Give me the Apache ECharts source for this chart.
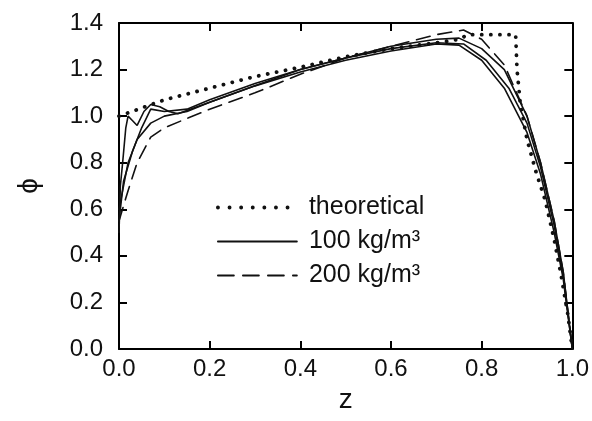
<!DOCTYPE html>
<html>
<head>
<meta charset="utf-8">
<script src="https://cdn.jsdelivr.net/npm/echarts@6/dist/echarts.min.js"></script>
<style>html,body{margin:0;padding:0;background:#fff}#c{width:592px;height:421px}</style>
</head>
<body>
<div id="c"></div>
<script>
const xTicks = [0, 0.2, 0.4, 0.6, 0.8, 1.0];
const yTicks = [0, 0.2, 0.4, 0.6, 0.8, 1.0, 1.2, 1.4];
const legendNames = ['theoretical', '100 kg/m³', '200 kg/m³'];

const theoretical = [[0,1.0],[0.05,1.035],[0.1,1.07],[0.15,1.095],[0.2,1.12],[0.3,1.17],[0.4,1.21],[0.5,1.255],[0.6,1.29],[0.7,1.315],[0.75,1.33],[0.77,1.35],[0.875,1.35],[0.878,1.2],[0.885,1.06],[0.9,0.9],[0.92,0.76],[0.94,0.64],[0.96,0.47],[0.975,0.32],[0.99,0.15],[1.0,0]];
const solid1 = [[0,0.5],[0.003,0.7],[0.008,0.8],[0.015,0.95],[0.02,1.0],[0.03,0.98],[0.04,0.96],[0.055,1.02],[0.07,1.05],[0.09,1.04],[0.11,1.02],[0.13,1.01],[0.2,1.06],[0.3,1.13],[0.4,1.19],[0.5,1.24],[0.6,1.28],[0.7,1.31],[0.75,1.305],[0.8,1.24],[0.85,1.12],[0.9,0.93],[0.93,0.75],[0.96,0.5],[0.98,0.3],[1.0,0]];
const solid2 = [[0,0.55],[0.01,0.72],[0.03,0.85],[0.05,0.95],[0.07,1.03],[0.1,1.02],[0.15,1.03],[0.2,1.07],[0.3,1.14],[0.4,1.2],[0.5,1.25],[0.6,1.29],[0.7,1.315],[0.76,1.31],[0.81,1.24],[0.86,1.12],[0.9,0.97],[0.93,0.78],[0.96,0.53],[0.98,0.32],[1.0,0]];
const solid3 = [[0,0.6],[0.02,0.8],[0.04,0.9],[0.07,0.97],[0.1,1.0],[0.15,1.02],[0.2,1.06],[0.3,1.13],[0.4,1.2],[0.5,1.25],[0.6,1.3],[0.7,1.33],[0.75,1.335],[0.8,1.29],[0.85,1.2],[0.9,1.0],[0.93,0.8],[0.96,0.55],[0.98,0.33],[1.0,0]];
const dashed1 = [[0,0.55],[0.02,0.68],[0.04,0.8],[0.07,0.91],[0.1,0.95],[0.15,0.99],[0.2,1.03],[0.3,1.1],[0.4,1.18],[0.5,1.25],[0.6,1.3],[0.7,1.35],[0.76,1.37],[0.8,1.33],[0.85,1.22],[0.9,1.0],[0.93,0.8],[0.96,0.55],[0.98,0.33],[1.0,0]];

const FONT = 'Liberation Sans, Arial, sans-serif';
const chart = echarts.init(document.getElementById('c'), null, {renderer: 'canvas'});

function line(name, data, type, width) {
  return {
    name: name, type: 'line', data: data, symbol: 'none', smooth: false,
    lineStyle: {color: '#111', width: width, type: type, cap: 'round'},
    itemStyle: {color: '#111'}, animation: false, z: 3
  };
}

const axisCommon = {
  type: 'value', min: 0, interval: 0.2,
  axisLine: {show: true, onZero: false, lineStyle: {color: '#000', width: 2}},
  axisTick: {show: true, inside: true, length: 8, lineStyle: {color: '#000', width: 2}},
  splitLine: {show: false}
};

chart.setOption({
  animation: false,
  backgroundColor: '#fff',
  grid: {left: 119, right: 19, top: 23, bottom: 72, containLabel: false},
  legend: {
    orient: 'vertical', left: 211, top: 190, itemGap: 9,
    itemWidth: 79, itemHeight: 14,
    itemStyle: {opacity: 0},
    data: [
      {name: legendNames[0], lineStyle: {width: 3.8, type: [0.1, 11.5], cap: 'round', color: '#111'}},
      {name: legendNames[1], lineStyle: {width: 1.8, type: 'solid', color: '#111'}},
      {name: legendNames[2], lineStyle: {width: 1.8, type: [16, 9], color: '#111'}}
    ],
    textStyle: {fontFamily: FONT, fontSize: 25, color: '#111', padding: [0, 0, 0, 7]},
    selectedMode: false
  },
  xAxis: [
    Object.assign({}, axisCommon, {max: 1.0, position: 'bottom',
      name: 'z', nameLocation: 'middle', nameGap: 31,
      nameTextStyle: {fontFamily: FONT, fontSize: 28, color: '#111'},
      axisLabel: {fontFamily: FONT, fontSize: 24, color: '#111', margin: 8,
        formatter: v => v.toFixed(1)}}),
    Object.assign({}, axisCommon, {max: 1.0, position: 'top', axisLabel: {show: false}})
  ],
  yAxis: [
    Object.assign({}, axisCommon, {max: 1.4, position: 'left',
      name: 'ϕ', nameLocation: 'middle', nameGap: 76, nameRotate: 90,
      nameTextStyle: {fontFamily: FONT, fontSize: 28, color: '#111'},
      axisLabel: {fontFamily: FONT, fontSize: 24, color: '#111', margin: 16,
        formatter: v => v.toFixed(1)}}),
    Object.assign({}, axisCommon, {max: 1.4, position: 'right', axisLabel: {show: false}})
  ],
  series: [
    line(legendNames[0], theoretical, [0.1, 9], 3.8),
    line(legendNames[1], solid1, 'solid', 1.6),
    line(legendNames[1], solid2, 'solid', 1.6),
    line(legendNames[1], solid3, 'solid', 1.6),
    line(legendNames[2], dashed1, [14, 8], 1.6)
  ]
});
</script>
</body>
</html>
